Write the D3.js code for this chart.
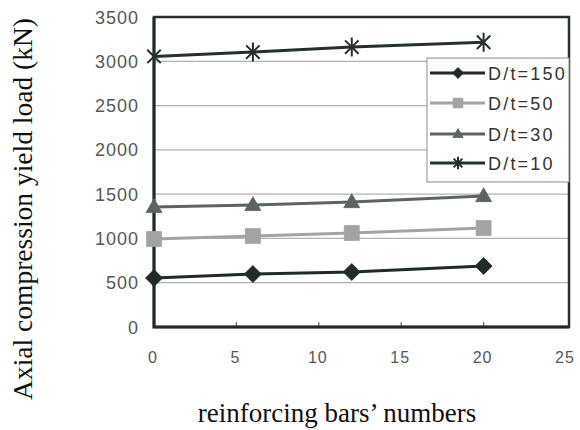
<!DOCTYPE html>
<html>
<head>
<meta charset="utf-8">
<script src="https://cdn.jsdelivr.net/npm/d3@7"></script>
<style>
  body { margin: 0; background: #fff; }
  svg { display: block; }
</style>
</head>
<body>
<div id="main"></div>
<script>
const xValues = [0, 6, 12, 20];
const dt150 = [553, 598, 621, 688];
const dt50 = [993, 1027, 1061, 1117];
const dt30 = [1354, 1377, 1410, 1478];
const dt10 = [3055, 3104, 3160, 3215];
const xTicks = [0, 5, 10, 15, 20, 25];
const yTicks = [0, 500, 1000, 1500, 2000, 2500, 3000, 3500];

const series = [
  { name: 'D/t=150', values: dt150, color: '#1f2b24', symbol: 'diamond', width: 3 },
  { name: 'D/t=50', values: dt50, color: '#a2a4a2', symbol: 'square', width: 3 },
  { name: 'D/t=30', values: dt30, color: '#5c645e', symbol: 'triangle', width: 3 },
  { name: 'D/t=10', values: dt10, color: '#26302a', symbol: 'star', width: 3 }
];

const width = 580, height = 430;
const pLeft = 154, pRight = 569, pTop = 17, pBottom = 327;
const sansFont = '"Liberation Sans", Arial, sans-serif';

const svg = d3.select('#main').append('svg')
  .attr('width', width).attr('height', height);

const x = d3.scaleLinear().domain([0, 25]).range([pLeft, pRight - 3]);
const y = d3.scaleLinear().domain([0, 3500]).range([pBottom, pTop]);

// gridlines
svg.append('g')
  .selectAll('line')
  .data(yTicks.slice(1, -1))
  .enter().append('line')
  .attr('x1', pLeft).attr('x2', pRight)
  .attr('y1', d => y(d)).attr('y2', d => y(d))
  .attr('stroke', '#b0b4b1').attr('stroke-width', 1.3);

// y tick labels
svg.append('g')
  .selectAll('text')
  .data(yTicks)
  .enter().append('text')
  .attr('x', 139).attr('y', d => y(d) + 6.5)
  .attr('text-anchor', 'end')
  .style('font', '18px ' + sansFont)
  .style('letter-spacing', '1px')
  .attr('fill', '#545954')
  .text(d => d);

// x tick labels
svg.append('g')
  .selectAll('text')
  .data(xTicks)
  .enter().append('text')
  .attr('x', d => x(d) - 1).attr('y', 363)
  .attr('text-anchor', 'middle')
  .style('font', '16px ' + sansFont)
  .style('letter-spacing', '1px')
  .attr('fill', '#545954')
  .text(d => d);

// x ticks (inside)
svg.append('g')
  .selectAll('line')
  .data(xTicks.slice(1, -1))
  .enter().append('line')
  .attr('x1', d => x(d)).attr('x2', d => x(d))
  .attr('y1', pBottom).attr('y2', pBottom - 5)
  .attr('stroke', '#666').attr('stroke-width', 1.2);

// frame
svg.append('rect')
  .attr('x', pLeft).attr('y', pTop)
  .attr('width', pRight - pLeft).attr('height', pBottom - pTop)
  .attr('fill', 'none').attr('stroke', '#27302a').attr('stroke-width', 2.5);
svg.append('path')
  .attr('d', `M${pLeft},${pTop} V${pBottom} H${pRight}`)
  .attr('fill', 'none').attr('stroke', '#1f2b24').attr('stroke-width', 3);

const line = d3.line().x((d, i) => x(xValues[i])).y(d => y(d));

// marker shapes
function diamondPath(r) {
  return `M0,${-r}L${r},0L0,${r}L${-r},0Z`;
}
function squarePath(r) {
  return `M${-r},${-r}H${r}V${r}H${-r}Z`;
}
function trianglePath(r) {
  const h = r * Math.sqrt(3);
  return `M0,${-h * 0.6}L${r},${h * 0.4}L${-r},${h * 0.4}Z`;
}
function starPath(r) {
  const d = r * Math.SQRT1_2;
  return `M0,${-r}V${r}M${-d},${-d}L${d},${d}M${-d},${d}L${d},${-d}`;
}

const symbolMap = {
  diamond: s => diamondPath(8.5 * s),
  square: s => squarePath(7.5 * s),
  triangle: s => trianglePath(8 * s),
  star: s => starPath(9.5 * s)
};

function drawMarker(g, s, cx, cy, scale) {
  const m = g.append('path')
    .attr('transform', `translate(${cx},${cy})`)
    .attr('d', symbolMap[s.symbol](scale || 1));
  if (s.symbol === 'star') {
    m.attr('fill', 'none').attr('stroke', s.color).attr('stroke-width', 2);
  } else {
    m.attr('fill', s.color).attr('stroke', s.color).attr('stroke-width', 0.8);
  }
}

series.forEach(s => {
  const g = svg.append('g');
  g.append('path')
    .datum(s.values)
    .attr('d', line)
    .attr('fill', 'none')
    .attr('stroke', s.color)
    .attr('stroke-width', s.width);
  s.values.forEach((v, i) => drawMarker(g, s, x(xValues[i]), y(v)));
});

// legend
const lg = svg.append('g');
lg.append('rect')
  .attr('x', 427).attr('y', 58).attr('width', 142).attr('height', 124)
  .attr('fill', '#fff').attr('stroke', '#8a8f8b').attr('stroke-width', 1);
const legendY = [73, 103, 134, 163];
series.forEach((s, i) => {
  lg.append('line')
    .attr('x1', 430).attr('x2', 485)
    .attr('y1', legendY[i]).attr('y2', legendY[i])
    .attr('stroke', s.color).attr('stroke-width', s.width);
  drawMarker(lg, s, 458, legendY[i], 0.65);
  lg.append('text')
    .attr('x', 488).attr('y', legendY[i] + 7)
    .style('font', '18px ' + sansFont)
    .style('letter-spacing', '2.2px')
    .attr('fill', '#303530')
    .text(s.name);
});

// axis titles
svg.append('text')
  .attr('transform', 'translate(32,209) rotate(-90)')
  .attr('text-anchor', 'middle')
  .style('font', '27.5px "Liberation Serif", "Times New Roman", serif')
  .attr('fill', '#111')
  .text('Axial compression yield load (kN)');

svg.append('text')
  .attr('x', 337).attr('y', 422)
  .attr('text-anchor', 'middle')
  .style('font', '27px "Liberation Serif", "Times New Roman", serif')
  .attr('fill', '#111')
  .text('reinforcing bars\u2019 numbers');
</script>
</body>
</html>
